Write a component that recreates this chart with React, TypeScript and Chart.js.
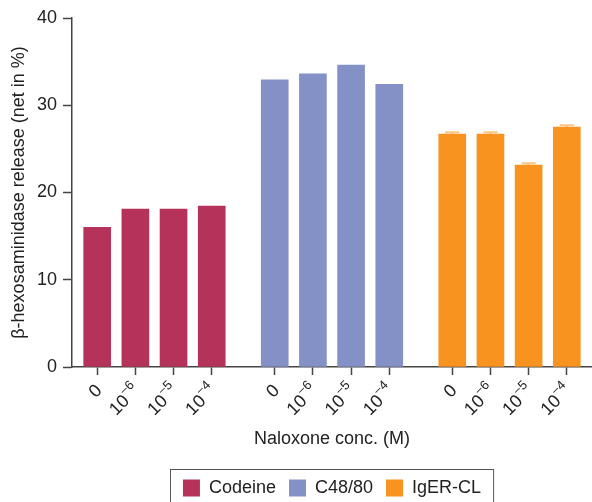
import { useEffect, useRef } from 'react';
import { Chart, registerables } from 'chart.js';

Chart.register(...registerables);

// ---- data ----
const seriesNames = ['Codeine', 'C48/80', 'IgER-CL'];
const concBases = ['0', '10', '10', '10'];
const concExponents = ['', '−6', '−5', '−4'];
const codeineValues = [16.0, 18.1, 18.1, 18.45];
const c4880Values = [32.9, 33.6, 34.6, 32.4];
const igerclValues = [26.7, 26.7, 23.15, 27.5];
const codeineErrors = [0, 0, 0, 0];
const c4880Errors = [0, 0, 0, 0];
const igerclErrors = [0.2, 0.2, 0.2, 0.2];
const yTickValues = [0, 10, 20, 30, 40];

// ---- styles / layout ----
const seriesColors = ['#B5335A', '#8491C7', '#F7931E'];
const errorColors = ['rgba(181,51,90,0.5)', 'rgba(132,145,199,0.5)', 'rgba(247,147,30,0.55)'];
const GROUP_STEP = 4.65;
const EDGE = 0.66;
const FONT = "'Liberation Sans', Arial, Helvetica, sans-serif";
const TEXT = '#222';
const AXIS = '#444';
const CANVAS_W = 592;
const CANVAS_H = 507;

const allValues = [codeineValues, c4880Values, igerclValues];
const allErrors = [codeineErrors, c4880Errors, igerclErrors];
const tickPositions: number[] = [];
allValues.forEach((vals, g) => vals.forEach((_, i) => tickPositions.push(g * GROUP_STEP + i)));

const errorBarsPlugin = {
  id: 'errorBars',
  afterDatasetsDraw(chart: any) {
    const ctx = chart.ctx;
    const yScale = chart.scales.y;
    chart.data.datasets.forEach((ds: any, di: number) => {
      const meta = chart.getDatasetMeta(di);
      const errs = allErrors[di];
      meta.data.forEach((bar: any, i: number) => {
        const e = errs[i];
        if (!e) return;
        const v = allValues[di][i];
        const yTop = yScale.getPixelForValue(v + e);
        const yBar = yScale.getPixelForValue(v);
        ctx.save();
        ctx.strokeStyle = errorColors[di];
        ctx.lineWidth = 2;
        ctx.beginPath();
        ctx.moveTo(bar.x, yBar);
        ctx.lineTo(bar.x, yTop);
        ctx.moveTo(bar.x - 7, yTop);
        ctx.lineTo(bar.x + 7, yTop);
        ctx.stroke();
        ctx.restore();
      });
    });
  },
};

const xLabelsPlugin = {
  id: 'xLabels',
  afterDraw(chart: any) {
    const ctx = chart.ctx;
    const xScale = chart.scales.x;
    const axisY = chart.chartArea.bottom;
    ctx.save();
    ctx.fillStyle = TEXT;
    tickPositions.forEach((pos, k) => {
      const i = k % 4;
      const base = concBases[i];
      const exp = concExponents[i];
      const px = xScale.getPixelForValue(pos);
      ctx.save();
      ctx.translate(px + 2, axisY + 21);
      ctx.rotate(-Math.PI / 4);
      ctx.textBaseline = 'middle';
      ctx.textAlign = 'left';
      ctx.font = `18px ${FONT}`;
      const wBase = ctx.measureText(base).width;
      ctx.font = `13px ${FONT}`;
      const wExp = exp ? ctx.measureText(exp).width : 0;
      const total = wBase + wExp;
      ctx.font = `18px ${FONT}`;
      ctx.fillText(base, -total, 0);
      if (exp) {
        ctx.font = `13px ${FONT}`;
        ctx.fillText(exp, -wExp, -7);
      }
      ctx.restore();
    });
    ctx.restore();
  },
};

const legendBorderPlugin = {
  id: 'legendBorder',
  afterDraw(chart: any) {
    const boxes = chart.legend?.legendHitBoxes;
    if (!boxes || !boxes.length) return;
    const first = boxes[0];
    const last = boxes[boxes.length - 1];
    const left = first.left - 13;
    const right = last.left + last.width + 12;
    const top = first.top - 10;
    const ctx = chart.ctx;
    ctx.save();
    ctx.strokeStyle = '#555';
    ctx.lineWidth = 1;
    ctx.strokeRect(Math.round(left) + 0.5, Math.round(top) + 0.5, right - left, 80);
    ctx.restore();
  },
};

export default function App() {
  const ref = useRef<HTMLCanvasElement | null>(null);

  useEffect(() => {
    if (!ref.current) return;
    Chart.defaults.font.family = FONT;
    const chart = new Chart(ref.current, {
      type: 'bar',
      data: {
        datasets: allValues.map((vals, g) => ({
          label: seriesNames[g],
          data: vals.map((v, i) => ({ x: g * GROUP_STEP + i, y: v })),
          backgroundColor: seriesColors[g],
          borderWidth: 0,
          barThickness: 27,
          grouped: false,
        })),
      },
      options: {
        animation: false,
        responsive: false,
        maintainAspectRatio: false,
        layout: { padding: { top: 18, left: 0, right: 0, bottom: 0 } },
        plugins: {
          tooltip: { enabled: false },
          legend: {
            position: 'bottom',
            fullSize: false,
            labels: {
              boxWidth: 17,
              boxHeight: 17,
              padding: 13,
              color: TEXT,
              font: { size: 18, family: FONT },
            },
          },
        },
        scales: {
          x: {
            type: 'linear',
            offset: false,
            min: -EDGE,
            max: 2 * GROUP_STEP + 3 + EDGE,
            afterBuildTicks: (s: any) => {
              s.ticks = tickPositions.map((v) => ({ value: v }));
            },
            ticks: { display: false },
            grid: {
              display: true,
              offset: false,
              drawOnChartArea: false,
              drawTicks: true,
              tickLength: 8,
              tickColor: AXIS,
              tickWidth: 1.5,
            },
            border: { display: true, color: AXIS, width: 1.5 },
            title: {
              display: true,
              text: 'Naloxone conc. (M)',
              color: TEXT,
              font: { size: 18, family: FONT },
              padding: { top: 0, bottom: 16 },
            },
            afterFit: (s: any) => {
              s.height = 99;
            },
          },
          y: {
            min: 0,
            max: 40,
            afterBuildTicks: (s: any) => {
              s.ticks = yTickValues.map((v) => ({ value: v }));
            },
            ticks: { color: TEXT, padding: 6, font: { size: 18, family: FONT } },
            grid: {
              display: true,
              drawOnChartArea: false,
              drawTicks: true,
              tickLength: 9,
              tickColor: AXIS,
              tickWidth: 1.5,
            },
            border: { display: true, color: AXIS, width: 1.5 },
            title: {
              display: true,
              text: 'β-hexosaminidase release (net in %)',
              color: TEXT,
              font: { size: 18, family: FONT },
              padding: { top: 8, bottom: 0 },
            },
            afterFit: (s: any) => {
              s.width = 72;
            },
          },
        },
      },
      plugins: [errorBarsPlugin, xLabelsPlugin, legendBorderPlugin],
    } as any);
    return () => chart.destroy();
  }, []);

  return (
    <div
      style={{
        position: 'absolute',
        left: 0,
        top: 0,
        width: CANVAS_W,
        height: 502,
        overflow: 'hidden',
        background: '#fff',
      }}
    >
      <canvas ref={ref} width={CANVAS_W} height={CANVAS_H} style={{ display: 'block' }} />
    </div>
  );
}
